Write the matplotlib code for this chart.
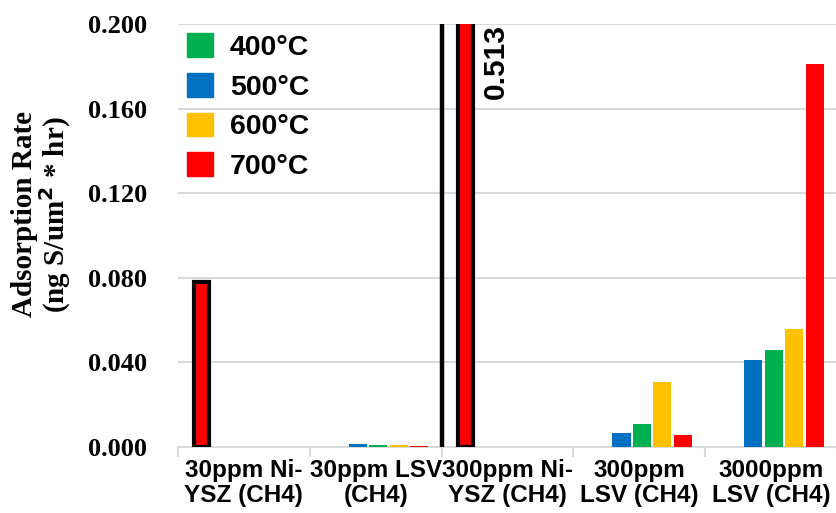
import matplotlib
matplotlib.use("Agg")
import matplotlib.pyplot as plt
import numpy as np
from matplotlib.patches import Patch

categories = ["30ppm Ni-\nYSZ (CH4)", "30ppm LSV\n(CH4)", "300ppm Ni-\nYSZ (CH4)",
              "300ppm\nLSV (CH4)", "3000ppm\nLSV (CH4)"]
ni_ysz_700 = [0.078, np.nan, 0.513, np.nan, np.nan]
t500 = [np.nan, 0.0012, np.nan, 0.0068, 0.0411]
t400 = [np.nan, 0.0011, np.nan, 0.0107, 0.0459]
t600 = [np.nan, 0.0008, np.nan, 0.0306, 0.0558]
t700 = [np.nan, 0.0006, np.nan, 0.0057, 0.181]
legend_labels = ["400°C", "500°C", "600°C", "700°C"]
y_ticks = [0.0, 0.04, 0.08, 0.12, 0.16, 0.2]

GREEN, BLUE, YELLOW, RED = "#00B050", "#0070C0", "#FFC000", "#FF0000"

fig = plt.figure(figsize=(8.37, 5.13), dpi=100)
ax = fig.add_axes([178/837, 1-447/513, 1-178/837, (447-24)/513])

x = np.arange(len(categories))
w = 0.137
offs = [-0.32, -0.135, 0.02, 0.175, 0.33]

ax.bar(x + offs[0], ni_ysz_700, width=w-0.02, color=RED, edgecolor="black", linewidth=3, zorder=3)
ax.bar(x + offs[1], t500, width=w, color=BLUE, zorder=3)
ax.bar(x + offs[2], t400, width=w, color=GREEN, zorder=3)
ax.bar(x + offs[3], t600, width=w, color=YELLOW, zorder=3)
ax.bar(x + offs[4], t700, width=w, color=RED, zorder=3)

# separator line between groups
ax.axvline(1.5, color="black", linewidth=3.2, zorder=4)

ax.set_xlim(-0.5, len(categories) - 0.5)
ax.set_ylim(0, 0.2)
ax.set_yticks(y_ticks)
ax.set_yticklabels([f"{v:.3f}" for v in y_ticks], fontfamily="Liberation Serif",
                   fontweight="bold", fontsize=19)
ax.yaxis.grid(True, color="#d9d9d9", linewidth=1.5, zorder=0)
ax.set_axisbelow(True)
ax.tick_params(axis="y", length=0, pad=22)

ax.set_xticks(x)
ax.set_xticklabels(categories, fontfamily="Liberation Sans", fontweight="bold",
                   fontsize=17.5, linespacing=1.1)
ax.tick_params(axis="x", which="major", length=0, pad=9)
ax.set_xticks(np.arange(-0.5, len(categories), 1.0), minor=True)
ax.tick_params(axis="x", which="minor", length=7, color="#d9d9d9", width=1.5)

for s in ["top", "right", "left"]:
    ax.spines[s].set_visible(False)
ax.spines["bottom"].set_color("#d9d9d9")
ax.spines["bottom"].set_linewidth(1.5)

ax.set_ylabel("Adsorption Rate\n(ng S/um$^\\mathbf{2}$ * hr)", fontfamily="Liberation Serif",
              fontweight="bold", fontsize=21, linespacing=0.95)
ax.yaxis.set_label_coords(-0.16, 0.55)

# value label for clipped bar
ax.annotate(f"{ni_ysz_700[2]:.3f}", xy=(x[2] + offs[0], 0.2), xytext=(12, 0),
            textcoords="offset points", rotation=90, ha="left", va="top",
            fontfamily="Liberation Sans", fontweight="bold", fontsize=21.5, annotation_clip=False)

handles = [Patch(color=c) for c in [GREEN, BLUE, YELLOW, RED]]
leg = ax.legend(handles, legend_labels, loc="upper left", bbox_to_anchor=(-0.016, 1.025),
                frameon=False, handlelength=0.9, handleheight=0.9, labelspacing=0.42,
                handletextpad=0.6, borderaxespad=0.3,
                prop={"family": "Liberation Sans", "weight": "bold", "size": 20.5})

fig.savefig("out.png", dpi=100)
